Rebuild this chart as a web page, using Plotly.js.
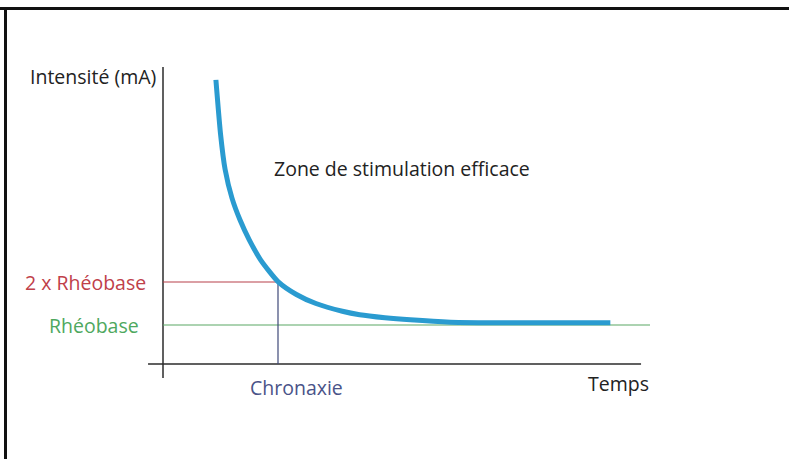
<!DOCTYPE html>
<html>
<head>
<meta charset="utf-8">
<script src="https://cdn.plot.ly/plotly-3.0.1.min.js"></script>
<style>html,body{margin:0;padding:0;background:#fff;}#chart{width:789px;height:459px;}</style>
</head>
<body>
<div id="chart"></div>
<script>
// Strength–duration curve, time in chronaxie units, intensity in rheobase units
const curveTime = [0.46, 0.50, 0.54, 0.60, 0.67, 0.75, 0.85, 1.00, 1.16, 1.33, 1.56, 1.71, 1.93, 2.15, 2.50, 3.00, 3.50, 3.89];
const curveIntensity = [6.70, 5.45, 4.62, 3.95, 3.44, 2.98, 2.51, 2.01, 1.71, 1.50, 1.32, 1.24, 1.17, 1.12, 1.065, 1.05, 1.05, 1.05];
const rheobase = 1;
const doubleRheobase = 2;
const chronaxie = 1;
const greenLineEnd = 4.235;
const xAxisEnd = 4.157;
const xAxisStart = -0.13;
const yAxisTop = 7.0;
const yAxisBottom = -0.23;
const xAxisLevel = 0.093;
const labels = {
  yTitle: "Intensité (mA)",
  xTitle: "Temps",
  double: "2 x Rhéobase",
  rheo: "Rhéobase",
  chron: "Chronaxie",
  zone: "Zone de stimulation efficace"
};

const FONT = "Open Sans, Noto Sans, sans-serif";
const FS = 19.5;

const traces = [
  {x: [xAxisStart, xAxisEnd], y: [xAxisLevel, xAxisLevel], mode: "lines", line: {color: "#2b2b2b", width: 1.5}, hoverinfo: "skip"},
  {x: [0, 0], y: [yAxisBottom, yAxisTop], mode: "lines", line: {color: "#2b2b2b", width: 1.5}, hoverinfo: "skip"},
  {x: [0, chronaxie], y: [doubleRheobase, doubleRheobase], mode: "lines", line: {color: "#b8404a", width: 1.2}, hoverinfo: "skip"},
  {x: [0, greenLineEnd], y: [rheobase, rheobase], mode: "lines", line: {color: "#5aa864", width: 1.2}, hoverinfo: "skip"},
  {x: [chronaxie, chronaxie], y: [xAxisLevel, doubleRheobase], mode: "lines", line: {color: "#3f4878", width: 1.2}, hoverinfo: "skip"},
  {x: curveTime, y: curveIntensity, mode: "lines", line: {color: "#2a9bd0", width: 5, shape: "spline", smoothing: 0.6}, hoverinfo: "skip"}
];

const layout = {
  width: 789, height: 459,
  margin: {l: 0, r: 0, t: 0, b: 0},
  paper_bgcolor: "#ffffff", plot_bgcolor: "#ffffff",
  showlegend: false,
  xaxis: {range: [-1.4174, 5.4435], visible: false, fixedrange: true},
  yaxis: {range: [-2.1163, 8.5581], visible: false, fixedrange: true},
  shapes: [
    {type: "line", xref: "paper", yref: "paper", x0: 0, x1: 1, y0: 1 - 8.5/459, y1: 1 - 8.5/459, line: {color: "#111", width: 3}},
    {type: "line", xref: "paper", yref: "paper", x0: 5.5/789, x1: 5.5/789, y0: 0, y1: 1 - 7/459, line: {color: "#111", width: 3}}
  ],
  annotations: [
    {x: -0.045, y: 6.79, xref: "x", yref: "y", text: labels.yTitle, showarrow: false, xanchor: "right", yanchor: "middle", font: {family: FONT, size: FS, color: "#222"}},
    {x: -0.13, y: doubleRheobase, xref: "x", yref: "y", text: labels.double, showarrow: false, xanchor: "right", yanchor: "middle", font: {family: FONT, size: FS, color: "#c0404a"}},
    {x: -0.19, y: rheobase, xref: "x", yref: "y", text: labels.rheo, showarrow: false, xanchor: "right", yanchor: "middle", font: {family: FONT, size: FS, color: "#4ea85e"}},
    {x: chronaxie + 0.165, y: -0.465, xref: "x", yref: "y", text: labels.chron, showarrow: false, xanchor: "center", yanchor: "middle", font: {family: FONT, size: FS, color: "#4a5388"}},
    {x: 3.965, y: -0.35, xref: "x", yref: "y", text: labels.xTitle, showarrow: false, xanchor: "center", yanchor: "middle", font: {family: FONT, size: FS, color: "#222"}},
    {x: 2.08, y: 4.65, xref: "x", yref: "y", text: labels.zone, showarrow: false, xanchor: "center", yanchor: "middle", font: {family: FONT, size: FS, color: "#222"}}
  ]
};

Plotly.newPlot("chart", traces, layout, {staticPlot: true, displayModeBar: false});
</script>
</body>
</html>
